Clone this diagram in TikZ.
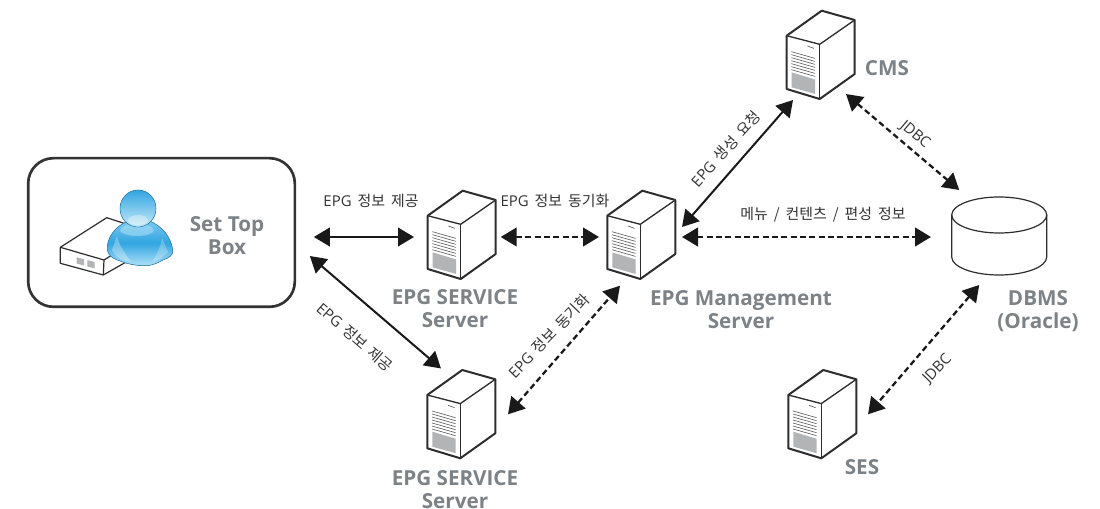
\documentclass[tikz,border=0pt]{standalone}
\usepackage{fontspec}
\setmainfont{Open Sans}
\newfontfamily\cjk{Noto Sans CJK KR}
\usetikzlibrary{arrows.meta,calc}
\definecolor{labelgray}{RGB}{125,130,134}
\definecolor{linedark}{RGB}{45,45,45}
\definecolor{fillgray}{RGB}{178,180,182}
\definecolor{userblue}{RGB}{50,165,225}
\definecolor{userlight}{RGB}{175,225,248}
\newcommand{\widespaces}{\spaceskip .4em\relax}
\tikzset{
  solidlink/.style={{Triangle[length=12pt,width=14pt]}-{Triangle[length=12pt,width=14pt]},line width=1.5pt,black!90},
  dashlink/.style={solidlink,line width=1.7pt,dash pattern=on 4.4pt off 2.6pt},
  bigtext/.style={font=\fontsize{15.5}{17.4}\selectfont\bfseries,text=labelgray,align=center,inner sep=0pt},
  smalltext/.style={font=\fontsize{11.2}{13}\selectfont\widespaces,text=black!80,inner sep=0pt},
  serverbox/.style={minimum width=51pt,minimum height=66.5pt,inner sep=0pt,outer sep=0pt},
  server/.pic={
    \node[serverbox] (box) at (0,0) {};
    \coordinate (p) at (-34,-19.3);
    \draw[line width=1.5pt,linedark,line join=round,fill=white] (p) -- ++(35,-25) -- ++(33,9.3) -- ++(0,54) -- ++(-35,25) -- ++(-33,-10) -- cycle;
    \draw[line width=1pt,linedark] (p) -- ++(33,8.6) -- ++(35,-24.3);
    \draw[line width=1pt,linedark] (-1,-10.7) -- (-1,44);
    \foreach \i in {0,...,6}
      \draw[line width=.45pt,black!65] ($(p)+(4.7,16+3*\i)$) -- ++(23.6,6.7);
    \draw[line width=.5pt,black!65] ($(p)+(20.7,10.3)$) -- ++(6.6,2.4);
    \fill[fillgray] ($(p)+(5,36.7)$) -- ++(23.3,7) -- ++(0,14.5) -- ++(-23.3,-6.5) -- cycle;
  }
}
\begin{document}
\begin{tikzpicture}[x=.75pt,y=-.75pt]
  \useasboundingbox (0,0) rectangle (1100,509);
  \node[draw=black!80,line width=2pt,rounded corners=19pt,minimum width=200pt,minimum height=111.5pt,inner sep=0pt,outer sep=0pt] (stb) at (161.5,232.5) {};
  \draw[line width=.9pt,linedark,line join=round] (60.3,247.3) -- (106.7,217.7) -- (126,224) (60.3,247.3) -- (60.3,263.3) -- (103.3,275) -- (126.7,261.7) (60.3,247.3) -- (104,260) -- (103.3,275) (104,260) -- (120,250);
  \fill[fillgray] (76.7,257.3) -- (84,259.3) -- (84,265.5) -- (76.7,263.5) -- cycle;
  \fill[fillgray] (87.3,260) -- (94.7,262) -- (94.7,268.5) -- (87.3,266.5) -- cycle;
  \fill[top color=userlight!60!userblue,bottom color=userlight,middle color=userblue,draw=userblue!80!black,line width=.4pt] (131,220) .. controls (116,225) and (108,236) .. (107.3,247) .. controls (107,253) and (110,256) .. (113,258) .. controls (125,264) and (137,266) .. (147,265.7) .. controls (153,265) and (158,263) .. (163,260) .. controls (169,258) and (173,255) .. (172.7,251) .. controls (172,238) and (162,225) .. (147,220) -- cycle;
  \fill[userlight,opacity=.55] (137,230) ellipse[x radius=17,y radius=6];
  \fill[white,opacity=.3] (112,250) .. controls (116,258) and (124,261) .. (131,262) .. controls (124,252) and (119,245) .. (117,236) -- cycle;
  \fill[white,opacity=.25] (168,252) .. controls (164,257) and (158,260) .. (152,262) .. controls (158,253) and (161,245) .. (162,238) -- cycle;
  \fill[top color=userblue,bottom color=userlight!70!white,draw=userblue!80!black,line width=.4pt] (138,208.5) ellipse[x radius=18,y radius=18.5];
  \fill[white,opacity=.35] (138,220) ellipse[x radius=10,y radius=5];
  \node[bigtext] (stblabel) at (227,236) {Set Top\\Box};
  \pic (sa) at (461.7,235) {server};
  \pic (mgmt) at (641.3,235) {server};
  \pic (cms) at (820.7,55) {server};
  \pic (sb) at (461.3,414.3) {server};
  \pic (ses) at (822.3,414.3) {server};
  \node[minimum width=71.25pt,minimum height=58.5pt,inner sep=0pt,outer sep=0pt] (dbms) at (999.2,236) {};
  \draw[line width=.9pt,linedark] (951.7,215) -- (951.7,257) arc[start angle=180,end angle=360,x radius=47.5,y radius=-18] -- (1046.7,215);
  \draw[line width=.9pt,linedark] (999.2,215) ellipse[x radius=47.5,y radius=18];
  \node[bigtext] (salabel) at (455,309) {EPG SERVICE\\Server};
  \node[bigtext] (sblabel) at (455,490) {EPG SERVICE\\Server};
  \node[bigtext] (mgmtlabel) at (741,310) {EPG Management\\Server};
  \node[bigtext] (cmslabel) at (887,68) {CMS};
  \node[bigtext] (dbmslabel) at (1038,311) {DBMS\\(Oracle)};
  \node[bigtext] (seslabel) at (862,467) {SES};
  \draw[solidlink] ([shift={(19,4.5)}]stb.east) -- ([shift={(-13.7,2)}]sabox.west);
  \draw[dashlink] ([shift={(5,2)}]sabox.east) -- ([shift={(-8.3,2)}]mgmtbox.west);
  \draw[solidlink] ([shift={(15,23.5)}]stb.east) -- ([shift={(-20.3,-1.5)}]sbbox.north);
  \draw[dashlink] ([shift={(12.7,0)}]sbbox.east) -- ([shift={(-21.3,6.4)}]mgmtbox.south);
  \draw[solidlink] ([shift={(6.7,-8)}]mgmtbox.east) -- ([shift={(-27.7,.7)}]cmsbox.south);
  \draw[dashlink] ([shift={(25.3,-5.3)}]cmsbox.south) -- ([shift={(-40,-7)}]dbms.north);
  \draw[dashlink] ([shift={(6.7,2)}]mgmtbox.east) -- ([shift={(-20.7,1)}]dbms.west);
  \draw[dashlink] ([shift={(-20,10)}]dbms.south) -- ([shift={(11.7,0)}]sesbox.east);
  \node[smalltext] (ltop) at (371,201) {EPG {\cjk 정보 제공}};
  \node[smalltext] (lsync) at (555,201) {EPG {\cjk 정보 동기화}};
  \node[smalltext,rotate=-41] (ldown) at (355,337) {EPG {\cjk 정보 제공}};
  \node[smalltext,rotate=46] (lsyncb) at (549,336) {EPG {\cjk 정보 동기화}};
  \node[smalltext,rotate=48] (lreq) at (725.7,149) {EPG {\cjk 생성 요청}};
  \node[smalltext,rotate=-40] (ljdbca) at (915,135) {JDBC};
  \node[smalltext] (lmenu) at (823,215) {{\cjk 메뉴 / 컨텐츠 / 편성 정보}};
  \node[smalltext,rotate=46] (ljdbcb) at (937.5,369) {JDBC};
\end{tikzpicture}
\end{document}
